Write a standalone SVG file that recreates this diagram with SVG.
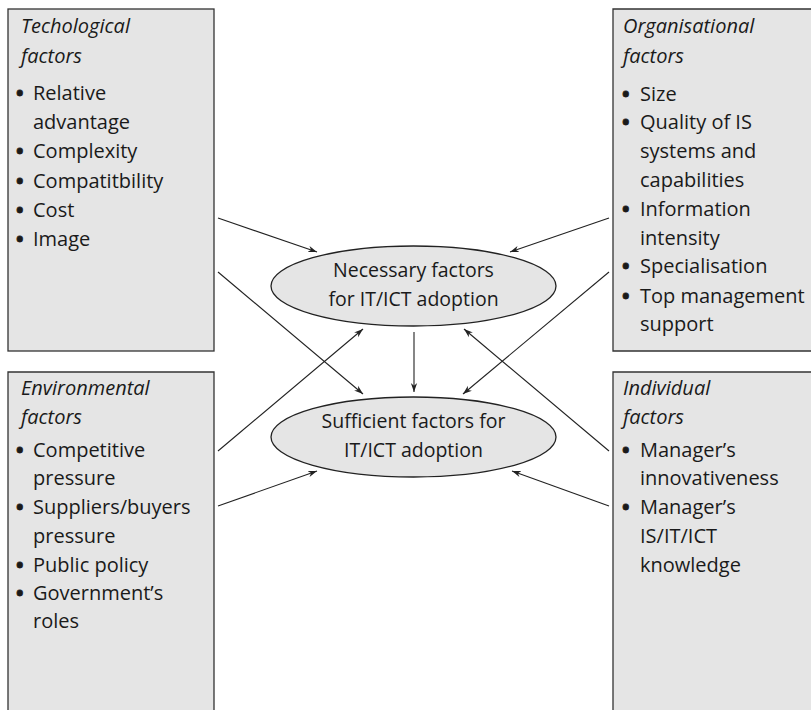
<svg xmlns="http://www.w3.org/2000/svg" width="811" height="710" viewBox="0 0 811 710">
<defs>
<marker id="ah" viewBox="0 0 10 10" refX="10" refY="5" markerWidth="9" markerHeight="9" markerUnits="userSpaceOnUse" orient="auto">
<path d="M0,1.5 L10,5 L0,8.5 L3,5 Z" fill="#222"/>
</marker>
<style>
.fill{fill:#e5e5e5;stroke:none}
.edge{fill:none;stroke:#333;stroke-width:1.3}
.ell{fill:#e5e5e5;stroke:#222;stroke-width:1.3}
text{font-family:"Open Sans","Noto Sans","DejaVu Sans",sans-serif;font-size:20px;fill:#1a1a1a}
.h{font-style:italic}
.b{font-weight:bold;stroke:#1a1a1a;stroke-width:0.8}
.c{text-anchor:middle;font-size:19.5px}
.con line{stroke:#222;stroke-width:1.1;marker-end:url(#ah)}
</style>
</defs>
<rect width="811" height="710" fill="#fff"/>

<g id="tech">
<rect class="fill" x="8" y="9" width="206" height="342"/>
<rect class="edge" x="8" y="9" width="206" height="342"/>
<text class="h" x="21" y="33">Techological</text>
<text class="h" x="21" y="63">factors</text>
<text y="100"><tspan class="b" x="16">•</tspan><tspan x="33">Relative</tspan></text>
<text x="33" y="129">advantage</text>
<text y="158"><tspan class="b" x="16">•</tspan><tspan x="33">Complexity</tspan></text>
<text y="188"><tspan class="b" x="16">•</tspan><tspan x="33">Compatitbility</tspan></text>
<text y="217"><tspan class="b" x="16">•</tspan><tspan x="33">Cost</tspan></text>
<text y="246"><tspan class="b" x="16">•</tspan><tspan x="33">Image</tspan></text>
</g>

<g id="org">
<rect class="fill" x="613" y="9" width="200" height="342"/>
<path class="edge" d="M812,9 H613 V351 H812"/>
<text class="h" x="623" y="33">Organisational</text>
<text class="h" x="623" y="63">factors</text>
<text y="101"><tspan class="b" x="622">•</tspan><tspan x="640">Size</tspan></text>
<text y="129"><tspan class="b" x="622">•</tspan><tspan x="640">Quality of IS</tspan></text>
<text x="640" y="158">systems and</text>
<text x="640" y="187">capabilities</text>
<text y="216"><tspan class="b" x="622">•</tspan><tspan x="640">Information</tspan></text>
<text x="640" y="245">intensity</text>
<text y="273"><tspan class="b" x="622">•</tspan><tspan x="640">Specialisation</tspan></text>
<text y="303"><tspan class="b" x="622">•</tspan><tspan x="640">Top management</tspan></text>
<text x="640" y="331">support</text>
</g>

<g id="env">
<rect class="fill" x="8" y="372" width="206" height="340"/>
<path class="edge" d="M8,711 V372 H214 V711"/>
<text class="h" x="21" y="395">Environmental</text>
<text class="h" x="21" y="424">factors</text>
<text y="457"><tspan class="b" x="16">•</tspan><tspan x="33">Competitive</tspan></text>
<text x="33" y="485">pressure</text>
<text y="514"><tspan class="b" x="16">•</tspan><tspan x="33">Suppliers/buyers</tspan></text>
<text x="33" y="543">pressure</text>
<text y="572"><tspan class="b" x="16">•</tspan><tspan x="33">Public policy</tspan></text>
<text y="600"><tspan class="b" x="16">•</tspan><tspan x="33">Government’s</tspan></text>
<text x="33" y="628">roles</text>
</g>

<g id="ind">
<rect class="fill" x="613" y="372" width="200" height="340"/>
<path class="edge" d="M812,372 H613 V711"/>
<text class="h" x="623" y="395">Individual</text>
<text class="h" x="623" y="424">factors</text>
<text y="457"><tspan class="b" x="622">•</tspan><tspan x="640">Manager’s</tspan></text>
<text x="640" y="485">innovativeness</text>
<text y="514"><tspan class="b" x="622">•</tspan><tspan x="640">Manager’s</tspan></text>
<text x="640" y="543">IS/IT/ICT</text>
<text x="640" y="572">knowledge</text>
</g>

<g id="necessary">
<ellipse class="ell" cx="413.5" cy="286" rx="142.5" ry="40"/>
<text class="c" x="413.5" y="277">Necessary factors</text>
<text class="c" x="413.5" y="306">for IT/ICT adoption</text>
</g>

<g id="sufficient">
<ellipse class="ell" cx="413.5" cy="437" rx="142.5" ry="40"/>
<text class="c" x="413.5" y="428">Sufficient factors for</text>
<text class="c" x="413.5" y="457">IT/ICT adoption</text>
</g>

<g class="con" id="connectors">
<line x1="218" y1="218" x2="317" y2="252"/>
<line x1="609" y1="218" x2="510" y2="252"/>
<line x1="218" y1="272" x2="363" y2="394"/>
<line x1="218" y1="451" x2="363" y2="329"/>
<line x1="414" y1="332" x2="414" y2="392"/>
<line x1="609" y1="272" x2="463" y2="394"/>
<line x1="609" y1="451" x2="464" y2="329"/>
<line x1="218" y1="506" x2="317" y2="471"/>
<line x1="609" y1="506" x2="512" y2="471"/>
</g>
</svg>
